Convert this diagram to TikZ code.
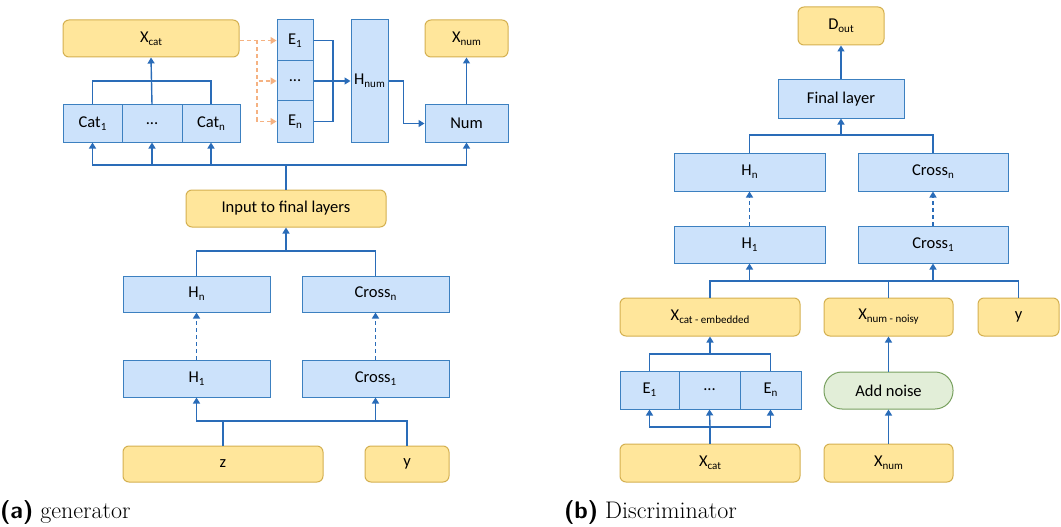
\documentclass[tikz,border=0pt]{standalone}
\usepackage{fontspec}
\newfontfamily\carl{Carlito}
\usetikzlibrary{arrows.meta}
\definecolor{bfill}{RGB}{204,226,251}
\definecolor{bdraw}{RGB}{60,128,192}
\definecolor{yfill}{RGB}{255,230,155}
\definecolor{ydraw}{RGB}{212,176,80}
\definecolor{gfill}{RGB}{226,238,216}
\definecolor{gdraw}{RGB}{120,160,95}
\definecolor{lcol}{RGB}{42,108,184}
\definecolor{ocol}{RGB}{245,178,130}
\newcommand\lsub[1]{\raisebox{-0.4ex}{\fontsize{11}{11}\selectfont #1}}
\tikzset{
  base/.style={inner sep=0pt, font=\carl\fontsize{16.5}{18}\selectfont, line width=1pt},
  bbox/.style={base, draw=bdraw, fill=bfill},
  ybox/.style={base, draw=ydraw, fill=yfill, rounded corners=6pt},
  gbox/.style={base, draw=gdraw, fill=gfill, rounded corners=18pt},
  ln/.style={draw=lcol, line width=1.4pt},
  arr/.style={ln, -{Triangle[width=7pt,length=6pt]}},
  darr/.style={arr, dash pattern=on 4pt off 3pt},
  oarr/.style={draw=ocol, line width=1.4pt, dash pattern=on 4pt off 3pt, -{Triangle[width=7pt,length=6pt]}},
  captext/.style={inner sep=0pt, anchor=base west, font=\fontsize{24}{28}\selectfont}
}
\begin{document}
\begin{tikzpicture}[x=1pt,y=-1pt]
\useasboundingbox (0,0) rectangle (1061,527);
% ---------- generator ----------
\node[ybox, minimum width=176, minimum height=37] (xcat) at (151,38.5) {X\lsub{cat}};
\node[bbox, minimum width=59, minimum height=37] (cat1) at (92.5,123.5) {Cat\lsub{1}};
\node[bbox, minimum width=60, minimum height=37] (catd) at (152,123.5) {...};
\node[bbox, minimum width=58, minimum height=37] (catn) at (211,123.5) {Cat\lsub{n}};
\node[bbox, minimum width=36, minimum height=41] (e1) at (295,40.5) {E\lsub{1}};
\node[bbox, minimum width=36, minimum height=40] (ed) at (295,81) {...};
\node[bbox, minimum width=36, minimum height=41] (en) at (295,121.5) {E\lsub{n}};
\node[bbox, minimum width=37, minimum height=122] (hnum) at (369.5,81) {H\lsub{num}};
\node[bbox, minimum width=83, minimum height=37] (num) at (466.5,123.5) {Num};
\node[ybox, minimum width=83, minimum height=37] (xnum) at (466.5,38.5) {X\lsub{num}};
\node[ybox, minimum width=200, minimum height=37] (inp) at (286,208.5) {Input to final layers};
\node[bbox, minimum width=147, minimum height=36] (hn) at (196.5,294) {H\lsub{n}};
\node[bbox, minimum width=147, minimum height=36] (crossn) at (375.5,294) {Cross\lsub{n}};
\node[bbox, minimum width=147, minimum height=37] (h1) at (196.5,378.5) {H\lsub{1}};
\node[bbox, minimum width=147, minimum height=37] (cross1) at (375.5,378.5) {Cross\lsub{1}};
\node[ybox, minimum width=200, minimum height=36] (z) at (223,464) {z};
\node[ybox, minimum width=84, minimum height=36] (y) at (407,464) {y};
\coordinate (cj) at (152,81);
\coordinate (tj) at (286,165);
\coordinate (mj) at (286,251);
\coordinate (bj) at (223,421);
\coordinate (ej) at (333,81);
\coordinate (oj) at (257,40.5);
% connectors
\draw[ln] (cat1.north) |- (cj) -| (catn.north);
\draw[arr] (catd.north) -- (xcat.south);
\draw[ln] (inp.north) -- (tj);
\draw[arr] (tj) -| (cat1.south);
\draw[arr] (tj) -| (catd.south);
\draw[arr] (tj) -| (catn.south);
\draw[arr] (tj) -| (num.south);
\draw[ln] (hn.north) |- (mj) -| (crossn.north);
\draw[arr] (mj) -- (inp.south);
\draw[darr] (h1.north) -- (hn.south);
\draw[darr] (cross1.north) -- (crossn.south);
\draw[ln] (z.north) -- (bj);
\draw[ln] (y.north) |- (bj);
\draw[arr] (bj) -| (h1.south);
\draw[arr] (bj) -| (cross1.south);
\draw[ln] (e1.east) -| (ej);
\draw[ln] (en.east) -| (ej);
\draw[arr] (ed.east) -- (hnum.west);
\draw[arr] (hnum.east) -- ++(15,0) |- (num.west);
\draw[arr] (num.north) -- (xnum.south);
\draw[oarr] (xcat.east |- e1.west) -- (e1.west);
\draw[oarr] (oj) |- (ed.west);
\draw[oarr] (oj) |- (en.west);
% ---------- discriminator ----------
\node[ybox, minimum width=86, minimum height=38] (dout) at (841,26) {D\lsub{out}};
\node[bbox, minimum width=126, minimum height=38] (final) at (841,99) {Final layer};
\node[bbox, minimum width=151, minimum height=38] (dhn) at (749.5,172) {H\lsub{n}};
\node[bbox, minimum width=150, minimum height=38] (dcrossn) at (933,172) {Cross\lsub{n}};
\node[bbox, minimum width=151, minimum height=37] (dh1) at (749.5,244.5) {H\lsub{1}};
\node[bbox, minimum width=150, minimum height=37] (dcross1) at (933,244.5) {Cross\lsub{1}};
\node[ybox, minimum width=180, minimum height=38] (xce) at (710,317) {X\lsub{cat - embedded}};
\node[ybox, minimum width=129, minimum height=38] (xnn) at (888.5,317) {X\lsub{num - noisy}};
\node[ybox, minimum width=81, minimum height=38] (dy) at (1018.5,317) {y};
\node[bbox, minimum width=59, minimum height=38] (de1) at (649.5,390) {E\lsub{1}};
\node[bbox, minimum width=61, minimum height=38] (ded) at (709.5,390) {...};
\node[bbox, minimum width=61, minimum height=38] (den) at (770.5,390) {E\lsub{n}};
\node[gbox, minimum width=129, minimum height=37] (noise) at (888.5,390.5) {Add noise};
\node[ybox, minimum width=180, minimum height=38] (dxcat) at (710,463) {X\lsub{cat}};
\node[ybox, minimum width=129, minimum height=38] (dxnum) at (888.5,463) {X\lsub{num}};
\coordinate (fj) at (841,135);
\coordinate (ij) at (1018.5,281);
\coordinate (uj) at (710,354);
\coordinate (lj) at (710,427);
\draw[arr] (final.north) -- (dout.south);
\draw[ln] (dhn.north) |- (fj) -| (dcrossn.north);
\draw[arr] (fj) -- (final.south);
\draw[darr] (dh1.north) -- (dhn.south);
\draw[darr] (dcross1.north) -- (dcrossn.south);
\draw[ln] (xce.north) |- (ij) -- (dy.north);
\draw[ln] (xnn.north) -- (xnn.north |- ij);
\draw[arr] (dh1.south |- ij) -- (dh1.south);
\draw[arr] (dcross1.south |- ij) -- (dcross1.south);
\draw[ln] (de1.north) |- (uj) -| (den.north);
\draw[arr] (uj) -- (xce.south);
\draw[ln] (dxcat.north) -- (lj);
\draw[arr] (lj) -| (de1.south);
\draw[arr] (lj) -| (den.south);
\draw[arr] (lj) -- (ded.south);
\draw[arr] (dxnum.north) -- (noise.south);
\draw[arr] (noise.north) -- (xnn.south);
% captions
\node[captext] (capa) at (0,518) {{\sffamily\bfseries (a)}\hspace{7pt}generator};
\node[captext] (capb) at (564,518) {{\sffamily\bfseries (b)}\hspace{7pt}Discriminator};
\end{tikzpicture}
\end{document}
